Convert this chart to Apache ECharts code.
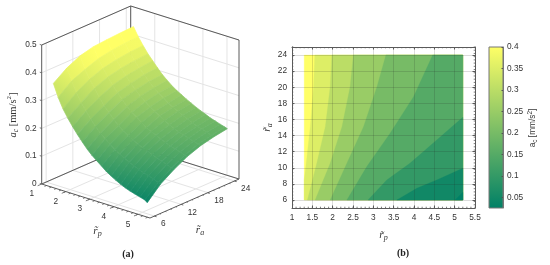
<!DOCTYPE html>
<html><head><meta charset="utf-8">
<style>html,body{margin:0;padding:0;background:#fff}#c{width:550px;height:265px}</style>
<script src="https://cdn.jsdelivr.net/npm/echarts@6/dist/echarts.min.js"></script>
</head><body><div id="c"></div>
<script>
// ---------- data ----------
const rpGrid = [1.3,1.5,1.7,1.9,2.1,2.3,2.5,2.7,2.9,3.1,3.3,3.5,3.7,3.9,4.1,4.3,4.5,4.7,4.9,5.1,5.2];
const raGrid = [6,9,12,15,18,21,24];
const acAtRa6  = [.363,.318,.282,.254,.229,.206,.185,.165,.148,.134,.120,.106,.095,.085,.076,.068,.062,.057,.052,.047,.040];
const acAtRa9  = [.397,.356,.320,.289,.264,.240,.220,.201,.186,.172,.159,.148,.138,.129,.121,.114,.108,.102,.096,.090,.086];
const acAtRa12 = [.420,.376,.347,.320,.292,.268,.249,.229,.212,.200,.188,.177,.168,.160,.154,.147,.140,.133,.127,.120,.117];
const acAtRa15 = [.432,.394,.365,.339,.315,.293,.275,.255,.240,.227,.214,.200,.192,.184,.176,.169,.162,.156,.151,.146,.143];
const acAtRa18 = [.436,.403,.375,.350,.327,.306,.288,.271,.256,.243,.232,.221,.211,.201,.193,.186,.180,.174,.169,.164,.161];
const acAtRa21 = [.439,.408,.381,.356,.335,.316,.297,.280,.267,.254,.242,.232,.223,.214,.206,.198,.191,.186,.180,.175,.172];
const acAtRa24 = [.441,.410,.384,.360,.340,.320,.301,.286,.272,.260,.250,.240,.231,.222,.214,.207,.199,.194,.188,.183,.180];
const acRows = [acAtRa6,acAtRa9,acAtRa12,acAtRa15,acAtRa18,acAtRa21,acAtRa24];

// contour lines of panel (b): [rp, ra] points, top to bottom
const level40 = [[1.56,24],[1.53,20.07],[1.45,15.1],[1.35,10.55],[1.30,8.5],[1.30,6]];
const level35 = [[1.98,24],[1.94,20.07],[1.82,15.1],[1.61,10.55],[1.38,6]];
const level30 = [[2.51,24],[2.43,20.07],[2.23,15.1],[1.94,10.55],[1.57,6]];
const level25 = [[3.31,24],[3.09,20.07],[2.76,15.1],[2.35,10.55],[1.94,6]];
const level20 = [[4.46,24],[3.99,18.83],[3.41,14.27],[2.84,10.14],[2.35,6]];
const level15 = [[5.2,16.26],[4.56,13.45],[3.90,10.55],[3.33,8.48],[2.87,6]];
const level10 = [[5.2,9.93],[4.56,8.48],[4.07,7.45],[3.58,6]];
const level05 = [[5.2,6.95],[5.01,6]];
const contourLines = [level40,level35,level30,level25,level20,level15,level10,level05];
const bandValues = [.35,.30,.25,.20,.15,.10,.05,.025];
const topBandValue = .4;
const rpLimits = [1.3,5.2], raLimits = [6,24];

const rpTicks = [1,2,3,4,5];
const raTicks3d = [6,12,18,24];
const acTicks3d = [0,.1,.2,.3,.4,.5];
const xTicksB = [1,1.5,2,2.5,3,3.5,4,4.5,5,5.5];
const yTicksB = [6,8,10,12,14,16,18,20,22,24];
const barTicks = [.05,.1,.15,.2,.25,.3,.35,.4];
const barRange = [.025,.4];

// ---------- helpers ----------
const FONT='"Liberation Sans",Arial,sans-serif', SERIF='"Liberation Serif","Times New Roman",serif';
const TXT='#333', FRAME='#5a5a5a', GRID3='#e4e4e4';
function summer(v){const t=Math.max(0,Math.min(1,(v-barRange[0])/(barRange[1]-barRange[0])));
  return 'rgb('+Math.round(255*t)+','+Math.round(255*(.5+.5*t))+',102)';}
function summer3d(v){const t=Math.max(0,Math.min(1,(v-.03)/(.41-.03)));
  return 'rgb('+Math.round(255*t)+','+Math.round(255*(.5+.5*t))+',102)';}
// parallel projection of the 3-D box to the full-page plane
const RP0=1,RP1=5.5,RA0=5,RA1=25;
function proj(rp,ra,z){return [41.7+(rp-RP0)*24.07+(ra-RA0)*4.45, 184+(rp-RP0)*7.56-(ra-RA0)*1.95-z*278];}

const frameSegs=[], gridSegs=[], tickSegs=[];
const add=(arr,a,b)=>arr.push([a[0],a[1],a[2],b[0],b[1],b[2]]);
[[RP0,RA0],[RP0,RA1],[RP1,RA1]].forEach(c=>add(frameSegs,[c[0],c[1],0],[c[0],c[1],.5]));
add(frameSegs,[RP0,RA0,.5],[RP0,RA1,.5]); add(frameSegs,[RP0,RA1,.5],[RP1,RA1,.5]);
add(frameSegs,[RP0,RA0,0],[RP1,RA0,0]); add(frameSegs,[RP1,RA0,0],[RP1,RA1,0]);
add(frameSegs,[RP0,RA0,0],[RP0,RA1,0]); add(frameSegs,[RP0,RA1,0],[RP1,RA1,0]);
rpTicks.forEach(p=>{ add(gridSegs,[p,RA0,0],[p,RA1,0]); add(gridSegs,[p,RA1,0],[p,RA1,.5]); add(tickSegs,[p,RA0,0],[p,RA0-.9,0]);});
raTicks3d.forEach(a=>{ add(gridSegs,[RP0,a,0],[RP1,a,0]); add(gridSegs,[RP0,a,0],[RP0,a,.5]); add(tickSegs,[RP1,a,0],[RP1+.09,a,0]);});
acTicks3d.forEach(z=>{ add(gridSegs,[RP0,RA0,z],[RP0,RA1,z]); add(gridSegs,[RP0,RA1,z],[RP1,RA1,z]); add(tickSegs,[RP0,RA0,z],[RP0-.08,RA0,z]);});
for(let p=1.2;p<5.5;p+=.2) add(tickSegs,[p,RA0,0],[p,RA0-.45,0]);
for(let a=6;a<=24;a+=1.2) add(tickSegs,[RP1,a,0],[RP1+.05,a,0]);

const segRender=(col,w)=>(params,api)=>{
  const a=api.coord(proj(api.value(0),api.value(1),api.value(2))), b=api.coord(proj(api.value(3),api.value(4),api.value(5)));
  return {type:'line',shape:{x1:a[0],y1:a[1],x2:b[0],y2:b[1]},style:{stroke:col,lineWidth:w}};
};
// surface cells, far to near
const cells=[];
for(let j=raGrid.length-2;j>=0;j--) for(let i=0;i<rpGrid.length-1;i++)
  cells.push([rpGrid[i],rpGrid[i+1],raGrid[j],raGrid[j+1],acRows[j][i],acRows[j][i+1],acRows[j+1][i],acRows[j+1][i+1]]);

const plane={coordinateSystem:'cartesian2d',xAxisIndex:0,yAxisIndex:0,clip:false,silent:true};
const planeText=(vals,pos,fmt,align)=>Object.assign({},plane,{type:'custom',data:vals.map(v=>[v,0]),z:6,
  renderItem:(params,api)=>{const v=api.value(0),q=api.coord(pos(v));
    return {type:'text',x:q[0],y:q[1],style:{text:fmt(v),font:'8.3px '+FONT,fill:TXT,align:align,verticalAlign:'middle'}};}});

const riRich={i:{fontFamily:SERIF,fontStyle:'italic',fontSize:11,fill:'#333',color:'#333'},s:{fontFamily:SERIF,fontStyle:'italic',fontSize:8,fill:'#333',color:'#333',verticalAlign:'bottom',lineHeight:13}};
const acRich={i:{fontFamily:SERIF,fontStyle:'italic',fontSize:10.5,fill:'#333'},s:{fontFamily:SERIF,fontStyle:'italic',fontSize:7.5,fill:'#333',verticalAlign:'bottom',lineHeight:14},
  n:{fontFamily:SERIF,fontSize:10.5,fill:'#333'},u:{fontFamily:SERIF,fontSize:7,fill:'#333',verticalAlign:'top',lineHeight:14}};
const barRich={n:{fontFamily:FONT,fontSize:8.3,fill:'#333'},s:{fontFamily:FONT,fontSize:6.5,fill:'#333',verticalAlign:'bottom',lineHeight:12},u:{fontFamily:FONT,fontSize:6.5,fill:'#333',verticalAlign:'top',lineHeight:12}};
const gtext=(x,y,text,rich,rot,extra)=>({type:'text',x:x,y:y,rotation:rot||0,z:20,silent:true,
  style:Object.assign({text:text,rich:rich,align:'center',verticalAlign:'middle'},extra||{})});

const minorRp=[],minorRa=[];
for(let p=1.1;p<5.5;p+=.1) minorRp.push(+p.toFixed(1));
for(let a=5.4;a<25;a+=.4) minorRa.push(+a.toFixed(1));

const option={
  animation:false,backgroundColor:'#fff',
  grid:[
    {left:0,right:0,top:0,bottom:0,containLabel:false},
    {left:292,top:47,width:183,height:161,show:false},
    {left:489,top:47,width:14,height:161,show:false}
  ],
  xAxis:[
    {gridIndex:0,type:'value',min:0,max:550,show:false},
    {gridIndex:1,type:'value',min:1,max:5.5,interval:.5,position:'bottom',z:5,
     axisLine:{lineStyle:{color:FRAME,width:1},onZero:false},
     axisTick:{inside:true,length:2.5,lineStyle:{color:FRAME}},
     axisLabel:{customValues:xTicksB,color:TXT,fontFamily:FONT,fontSize:8.3,margin:6,formatter:v=>String(v),hideOverlap:false,showMinLabel:true,showMaxLabel:true},
     splitLine:{show:true,lineStyle:{color:'rgba(40,40,40,.16)',width:1}},
     name:'{i|r\u0303}{s|p}',nameLocation:'middle',nameGap:21,nameTextStyle:{rich:riRich}},
    {gridIndex:1,type:'value',min:1,max:5.5,interval:.5,position:'top',z:5,
     axisLine:{lineStyle:{color:FRAME,width:1},onZero:false},axisTick:{inside:true,length:2.5,lineStyle:{color:FRAME}},axisLabel:{show:false},splitLine:{show:false}},
    {gridIndex:2,type:'value',min:0,max:1,show:false}
  ],
  yAxis:[
    {gridIndex:0,type:'value',min:0,max:265,inverse:true,show:false},
    {gridIndex:1,type:'value',min:5,max:25,position:'left',z:5,
     axisLine:{lineStyle:{color:FRAME,width:1},onZero:false},
     axisTick:{customValues:yTicksB,inside:true,length:2.5,lineStyle:{color:FRAME}},
     axisLabel:{customValues:yTicksB,color:TXT,fontFamily:FONT,fontSize:8.3,margin:5},
     splitLine:{show:true,lineStyle:{color:'rgba(40,40,40,.16)',width:1}},
     name:'{i|r\u0303}{s|a}',nameLocation:'middle',nameGap:18,nameRotate:90,nameTextStyle:{rich:riRich}},
    {gridIndex:1,type:'value',min:5,max:25,position:'right',z:5,
     axisLine:{lineStyle:{color:FRAME,width:1},onZero:false},
     axisTick:{customValues:yTicksB,inside:true,length:2.5,lineStyle:{color:FRAME}},axisLabel:{show:false},splitLine:{show:false}},
    {gridIndex:2,type:'value',min:barRange[0],max:barRange[1],position:'right',z:5,
     axisLine:{show:true,lineStyle:{color:'#777',width:1},onZero:false},
     axisTick:{customValues:barTicks,inside:true,length:1.5,lineStyle:{color:'#555'}},
     axisLabel:{customValues:barTicks,color:TXT,fontFamily:FONT,fontSize:8.3,margin:4,formatter:v=>String(+v.toFixed(2))},
     splitLine:{show:false}}
  ],
  graphic:[
    gtext(97.5,231,'{i|r\u0303}{s|p}',riRich),
    gtext(200,230,'{i|r\u0303}{s|a}',riRich),
    gtext(13,115,'{i|a}{s|c}{n| [mm/s}{u|2}{n|]}',acRich,Math.PI/2),
    gtext(128,254,'(a)',null,0,{font:'bold 10px '+SERIF,fill:'#222'}),
    gtext(403,253,'(b)',null,0,{font:'bold 10px '+SERIF,fill:'#222'}),
    gtext(533,128,'{n|a}{s|c}{n| [mm/s}{u|2}{n|]}',barRich,Math.PI/2)
  ],
  series:[
    Object.assign({},plane,{type:'custom',name:'grid3d',z:1,data:gridSegs,renderItem:segRender(GRID3,1)}),
    Object.assign({},plane,{type:'custom',name:'frame3d',z:2,data:frameSegs,renderItem:segRender(FRAME,1)}),
    Object.assign({},plane,{type:'custom',name:'ticks3d',z:2,data:tickSegs,renderItem:segRender(FRAME,.8)}),
    Object.assign({},plane,{type:'custom',name:'surface',z:3,data:cells,renderItem:(params,api)=>{
      const rp0=api.value(0),rp1=api.value(1),ra0=api.value(2),ra1=api.value(3),z00=api.value(4),z10=api.value(5),z01=api.value(6),z11=api.value(7);
      const a=api.coord(proj(rp0,ra0,z00)),b=api.coord(proj(rp1,ra0,z10)),c=api.coord(proj(rp1,ra1,z11)),d=api.coord(proj(rp0,ra1,z01));
      const g=new echarts.graphic.LinearGradient(a[0],a[1],d[0],d[1],[{offset:0,color:summer3d((z00+z10)/2)},{offset:1,color:summer3d((z01+z11)/2)}],true);
      return {type:'polygon',shape:{points:[a,b,c,d]},style:{fill:g,stroke:g,lineWidth:.7}};
    }}),
    planeText(acTicks3d,v=>{const p=proj(RP0,RA0,v);return [p[0]-5,p[1]];},v=>String(v),'right'),
    planeText(rpTicks,v=>{const p=proj(v,RA0,0);return [p[0]-10,p[1]+10];},v=>String(v),'center'),
    planeText(raTicks3d,v=>{const p=proj(RP1,v,0);return [p[0]+6.5,p[1]+8];},v=>String(v),'left'),
    // panel (b) filled contours
    {type:'custom',name:'contour',coordinateSystem:'cartesian2d',xAxisIndex:1,yAxisIndex:1,z:1,silent:true,
     data:[-1].concat(contourLines.map((c,i)=>i)).map(i=>[i,0]),
     renderItem:(params,api)=>{const i=api.value(0);
       let pts;
       if(i<0) pts=[[rpLimits[0],raLimits[1]],[rpLimits[1],raLimits[1]],[rpLimits[1],raLimits[0]],[rpLimits[0],raLimits[0]]];
       else{ pts=contourLines[i].slice(); pts.push([rpLimits[1],raLimits[0]]); if(pts[0][1]===raLimits[1]) pts.push([rpLimits[1],raLimits[1]]); }
       const col=summer(i<0?topBandValue:bandValues[i]);
       return {type:'polygon',shape:{points:pts.map(p=>api.coord(p))},style:{fill:col,stroke:col,lineWidth:.3}};
     }},
    // panel (b) minor ticks
    {type:'custom',name:'minorX',coordinateSystem:'cartesian2d',xAxisIndex:1,yAxisIndex:1,z:4,silent:true,data:minorRp.map(v=>[v,5]),
     renderItem:(params,api)=>{const v=api.value(0),a=api.coord([v,5]),b=api.coord([v,25]);
       return {type:'group',children:[{type:'line',shape:{x1:a[0],y1:a[1],x2:a[0],y2:a[1]-1.3},style:{stroke:FRAME,lineWidth:.8}},
         {type:'line',shape:{x1:b[0],y1:b[1],x2:b[0],y2:b[1]+1.3},style:{stroke:FRAME,lineWidth:.8}}]};}},
    {type:'custom',name:'minorY',coordinateSystem:'cartesian2d',xAxisIndex:1,yAxisIndex:1,z:4,silent:true,data:minorRa.map(v=>[1,v]),
     renderItem:(params,api)=>{const v=api.value(1),a=api.coord([1,v]),b=api.coord([5.5,v]);
       return {type:'group',children:[{type:'line',shape:{x1:a[0],y1:a[1],x2:a[0]+1.3,y2:a[1]},style:{stroke:FRAME,lineWidth:.8}},
         {type:'line',shape:{x1:b[0],y1:b[1],x2:b[0]-1.3,y2:b[1]},style:{stroke:FRAME,lineWidth:.8}}]};}},
    // colour bar
    {type:'custom',name:'colorbar',coordinateSystem:'cartesian2d',xAxisIndex:3,yAxisIndex:3,z:1,silent:true,data:[[0,barRange[0],1,barRange[1]]],
     renderItem:(params,api)=>{const a=api.coord([api.value(0),api.value(1)]),b=api.coord([api.value(2),api.value(3)]);
       return {type:'rect',shape:{x:a[0],y:b[1],width:b[0]-a[0],height:a[1]-b[1]},
         style:{fill:new echarts.graphic.LinearGradient(0,0,0,1,[{offset:0,color:summer(barRange[1])},{offset:1,color:summer(barRange[0])}]),stroke:'#777',lineWidth:1}};}}
  ]
};
const chart=echarts.init(document.getElementById('c'),null,{renderer:'canvas'});
chart.setOption(option);
</script></body></html>
